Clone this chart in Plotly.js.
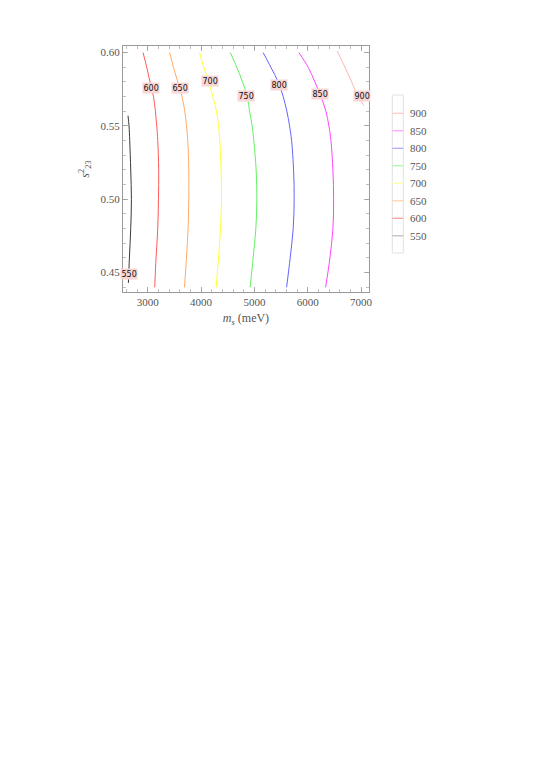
<!DOCTYPE html>
<html>
<head>
<meta charset="utf-8">
<script src="https://cdn.plot.ly/plotly-3.0.1.min.js"></script>
<style>html,body{margin:0;padding:0;background:#fff;}#chart{width:540px;height:764px;}</style>
</head>
<body>
<div id="chart"></div>
<script>
// Contour levels (legend order, top to bottom)
const levels = [900, 850, 800, 750, 700, 650, 600, 550];
const lineColors = {550:'#3a3a3a',600:'#ff5a5a',650:'#ffaa66',700:'#ffff33',750:'#66ee66',800:'#6464ff',850:'#ff44ff',900:'#ffb4b4'};
const legendColors = {550:'#bbbbbb',600:'#ff9a9a',650:'#ffd0a8',700:'#ffffa0',750:'#a8f5a8',800:'#a8a8ff',850:'#ff9cff',900:'#ffc8c8'};

// Read-off points of each contour line (x = m_s in meV, y = s23^2)
const yCommon = [0.60,0.59,0.58,0.57,0.56,0.55,0.54,0.52,0.50,0.48,0.46,0.44];
const x600 = [2911,2980,3042,3106,3143,3168,3187,3205,3200,3187,3155,3130];
const x650 = [3412,3482,3562,3643,3694,3726,3750,3769,3769,3756,3726,3688];
const x700 = [3970,4051,4144,4220,4289,4327,4351,4375,4383,4364,4327,4282];
const x750 = [4548,4670,4777,4867,4909,4958,4989,5033,5046,5027,4976,4920];
const x800 = [5164,5309,5446,5540,5609,5660,5698,5735,5746,5728,5671,5604];
const x850 = [5835,6009,6135,6248,6342,6398,6436,6473,6486,6473,6417,6336];
const y900 = [0.601,0.59,0.58,0.57,0.564];
const x900 = [6555,6699,6824,6948,7055];
const y550 = [0.557,0.55,0.54,0.52,0.50,0.48,0.46,0.443];
const x550 = [2629,2648,2661,2680,2693,2680,2655,2636];

// Inline contour label positions
const labelX = {550:2648,600:3068,650:3613,700:4163,750:4839,800:5465,850:6229,900:7012};
const labelY = {550:0.4493,600:0.5761,650:0.5756,700:0.5804,750:0.5704,800:0.5777,850:0.572,900:0.5704};

const xTicks = [3000,4000,5000,6000,7000];
const yTicks = [0.45,0.50,0.55,0.60];
const yTickText = ['0.45','0.50','0.55','0.60'];

const lines = {
  550:{x:x550,y:y550}, 600:{x:x600,y:yCommon}, 650:{x:x650,y:yCommon},
  700:{x:x700,y:yCommon}, 750:{x:x750,y:yCommon}, 800:{x:x800,y:yCommon},
  850:{x:x850,y:yCommon}, 900:{x:x900,y:y900}
};

const traces = levels.slice().reverse().map(lv => ({
  type:'scatter', mode:'lines', name:String(lv),
  x: lines[lv].x, y: lines[lv].y,
  line:{color: lineColors[lv], width:1, shape:'spline', smoothing:1},
  showlegend:false, hoverinfo:'skip'
}));

const serif = 'Liberation Serif, Times New Roman, serif';
const annotations = levels.map(lv => ({
  x: labelX[lv], y: labelY[lv], xref:'x', yref:'y', text:String(lv), showarrow:false,
  font:{family:'DejaVu Sans, sans-serif', size:8, color:'#111'},
  bgcolor:'#f8d6d6', borderpad:0.5
}));

// Manual legend box (pixel geometry converted to paper coords)
const plotL = 123, plotR = 369, plotT = 46, plotB = 292;
const px2paperX = px => (px - plotL) / (plotR - plotL);
const px2paperY = py => (plotB - py) / (plotB - plotT);
const shapes = [{
  type:'rect', xref:'paper', yref:'paper',
  x0:px2paperX(392.3), x1:px2paperX(403.3), y0:px2paperY(253), y1:px2paperY(95),
  line:{color:'#e2e2e2', width:1}, fillcolor:'rgba(0,0,0,0)'
}];
levels.forEach((lv,i) => {
  const py = 113.3 + 17.5*i;
  shapes.push({type:'line', xref:'paper', yref:'paper',
    x0:px2paperX(392.3), x1:px2paperX(403.3), y0:px2paperY(py), y1:px2paperY(py),
    line:{color:legendColors[lv], width:1.2}});
  annotations.push({xref:'paper', yref:'paper', x:px2paperX(408), y:px2paperY(py),
    xanchor:'left', yanchor:'middle', text:String(lv), showarrow:false,
    font:{family:serif, size:11, color:'#555'}});
});

const axisCommon = {
  showline:true, linecolor:'#9a9a9a', linewidth:1, mirror:'allticks',
  ticks:'inside', ticklen:5, tickcolor:'#9a9a9a', tickwidth:0.8,
  showgrid:false, zeroline:false,
  tickfont:{family:serif, size:11, color:'#555'}
};

const layout = {
  width:540, height:764,
  margin:{l:plotL, r:540-plotR, t:plotT, b:764-plotB, pad:0},
  paper_bgcolor:'#fff', plot_bgcolor:'#fff',
  showlegend:false,
  xaxis: Object.assign({}, axisCommon, {
    range:[2535,7150], tickvals:xTicks, ticktext:xTicks.map(String),
    minor:{dtick:200, tick0:3000, ticks:'inside', ticklen:3, tickcolor:'#b0b0b0'},
    title:{text:'<i>m<sub>s</sub></i> (meV)', font:{family:serif, size:12, color:'#555'}, standoff:6}
  }),
  yaxis: Object.assign({}, axisCommon, {
    range:[0.4368,0.6045], tickvals:yTicks, ticktext:yTickText,
    minor:{dtick:0.01, tick0:0.45, ticks:'inside', ticklen:3, tickcolor:'#b0b0b0'},
    title:{text:'<i>s</i><sup>2</sup><sub>23</sub>', font:{family:serif, size:12, color:'#555'}, standoff:8}
  }),
  annotations: annotations,
  shapes: shapes
};

Plotly.newPlot('chart', traces, layout, {staticPlot:true, displayModeBar:false});
</script>
</body>
</html>
